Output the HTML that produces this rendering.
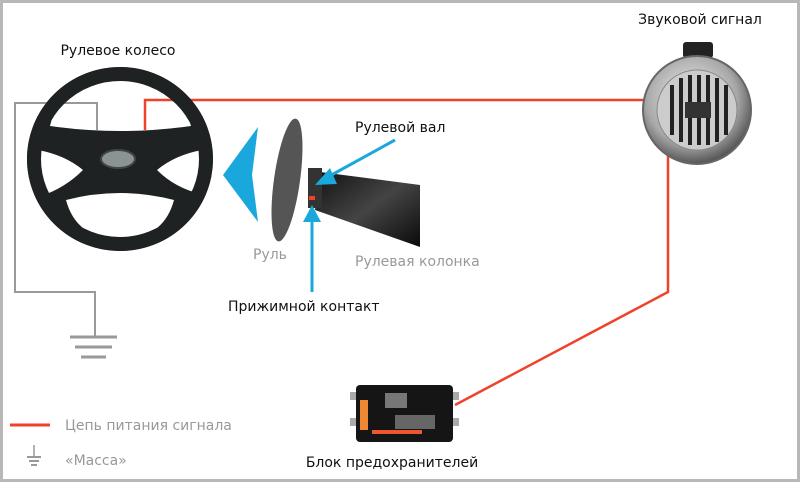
<!DOCTYPE html>
<html><head><meta charset="utf-8"><style>
html,body{margin:0;padding:0;background:#fff}
svg{display:block}
text{font-family:"DejaVu Sans","Liberation Sans",sans-serif;font-size:14px}
</style></head><body>
<svg width="800" height="482" viewBox="0 0 800 482" xmlns="http://www.w3.org/2000/svg">
<defs>
<radialGradient id="chrome" cx="0.45" cy="0.4" r="0.6"><stop offset="0" stop-color="#f4f4f4"/><stop offset="0.7" stop-color="#a8a8a8"/><stop offset="1" stop-color="#555"/></radialGradient>
<linearGradient id="col" x1="0" y1="0" x2="1" y2="1"><stop offset="0" stop-color="#111"/><stop offset="0.5" stop-color="#444"/><stop offset="1" stop-color="#0a0a0a"/></linearGradient>
</defs>
<rect x="1.5" y="1.5" width="797" height="479" fill="#fff" stroke="#b8b8b8" stroke-width="3"/>
<ellipse cx="120" cy="159" rx="93" ry="92" fill="#1e2222"/>
<path d="M50,126 Q60,80 120,75 Q180,80 191,126 Q120,136 50,126 Z" fill="#fff"/>
<path d="M66,200 Q120,186 174,200 Q164,238 120,241 Q76,238 66,200 Z" fill="#fff"/>
<path d="M38,150 Q65,155 83,170 Q65,188 41,196 Q34,172 38,150 Z" fill="#fff"/>
<path d="M202,150 Q175,155 157,170 Q175,188 201,194 Q207,172 202,150 Z" fill="#fff"/>
<ellipse cx="118" cy="159" rx="17" ry="9" fill="#8a9494" stroke="#444" stroke-width="2"/>
<polyline points="97,130 97,103 15,103 15,292 95,292 95,337" fill="none" stroke="#999" stroke-width="2"/>
<line x1="70" y1="337" x2="117" y2="337" stroke="#999" stroke-width="3"/>
<line x1="75" y1="347" x2="112" y2="347" stroke="#999" stroke-width="3"/>
<line x1="81" y1="357" x2="106" y2="357" stroke="#999" stroke-width="3"/>
<polyline points="145,130 145,100 645,100" fill="none" stroke="#f0412a" stroke-width="2.5"/>
<polyline points="668,155 668,292 455,405" fill="none" stroke="#f0412a" stroke-width="2.5"/>
<ellipse cx="120" cy="159" rx="86" ry="85" fill="none" stroke="#1e2222" stroke-width="14"/>
<text x="118" y="55" text-anchor="middle" fill="#111">Рулевое колесо</text>
<polygon points="258,127 223,175 258,222 252,175" fill="#1aa8dc"/>
<polygon points="320,172 420,185 420,247 315,210" fill="url(#col)"/>
<rect x="308" y="168" width="14" height="40" fill="#333"/>
<rect x="309" y="196" width="6" height="4" fill="#f0412a"/>
<ellipse cx="287" cy="180" rx="13" ry="62" transform="rotate(8 287 180)" fill="#555"/>
<line x1="395" y1="140" x2="326" y2="178" stroke="#1aa8dc" stroke-width="3"/>
<polygon points="315,185 330,168 337,184" fill="#1aa8dc"/>
<line x1="312" y1="292" x2="312" y2="218" stroke="#1aa8dc" stroke-width="3"/>
<polygon points="312,205 303,222 321,222" fill="#1aa8dc"/>
<text x="355" y="132" fill="#111">Рулевой вал</text>
<text x="253" y="259" fill="#999">Руль</text>
<text x="355" y="266" fill="#999">Рулевая колонка</text>
<text x="228" y="311" fill="#111">Прижимной контакт</text>
<rect x="683" y="42" width="30" height="16" rx="3" fill="#222"/>
<circle cx="697" cy="110" r="54" fill="url(#chrome)" stroke="#666" stroke-width="2"/>
<circle cx="697" cy="110" r="40" fill="#ccc" stroke="#888"/>
<g stroke="#222" stroke-width="4">
<line x1="672" y1="85" x2="672" y2="135"/><line x1="681" y1="78" x2="681" y2="142"/><line x1="690" y1="75" x2="690" y2="145"/><line x1="699" y1="75" x2="699" y2="145"/><line x1="708" y1="75" x2="708" y2="145"/><line x1="717" y1="78" x2="717" y2="142"/><line x1="726" y1="85" x2="726" y2="135"/>
</g>
<rect x="685" y="102" width="26" height="16" fill="#333"/>
<text x="700" y="24" text-anchor="middle" fill="#111">Звуковой сигнал</text>
<rect x="356" y="385" width="97" height="57" rx="4" fill="#151515"/>
<rect x="360" y="400" width="8" height="30" fill="#e83"/>
<rect x="372" y="430" width="50" height="4" fill="#e53"/>
<rect x="385" y="393" width="22" height="15" fill="#777"/>
<rect x="395" y="415" width="40" height="14" fill="#666"/>
<rect x="350" y="392" width="6" height="8" fill="#aaa"/><rect x="350" y="418" width="6" height="8" fill="#aaa"/>
<rect x="453" y="392" width="6" height="8" fill="#aaa"/><rect x="453" y="418" width="6" height="8" fill="#aaa"/>
<text x="392" y="467" text-anchor="middle" fill="#111">Блок предохранителей</text>
<line x1="10" y1="425" x2="50" y2="425" stroke="#f0412a" stroke-width="3"/>
<text x="65" y="430" fill="#999">Цепь питания сигнала</text>
<line x1="34" y1="445" x2="34" y2="457" stroke="#999" stroke-width="1.5"/>
<line x1="27" y1="457" x2="41" y2="457" stroke="#999" stroke-width="2"/>
<line x1="29" y1="461" x2="39" y2="461" stroke="#999" stroke-width="2"/>
<line x1="31" y1="465" x2="37" y2="465" stroke="#999" stroke-width="2"/>
<text x="65" y="465" fill="#999">«Масса»</text>
</svg>
</body></html>
